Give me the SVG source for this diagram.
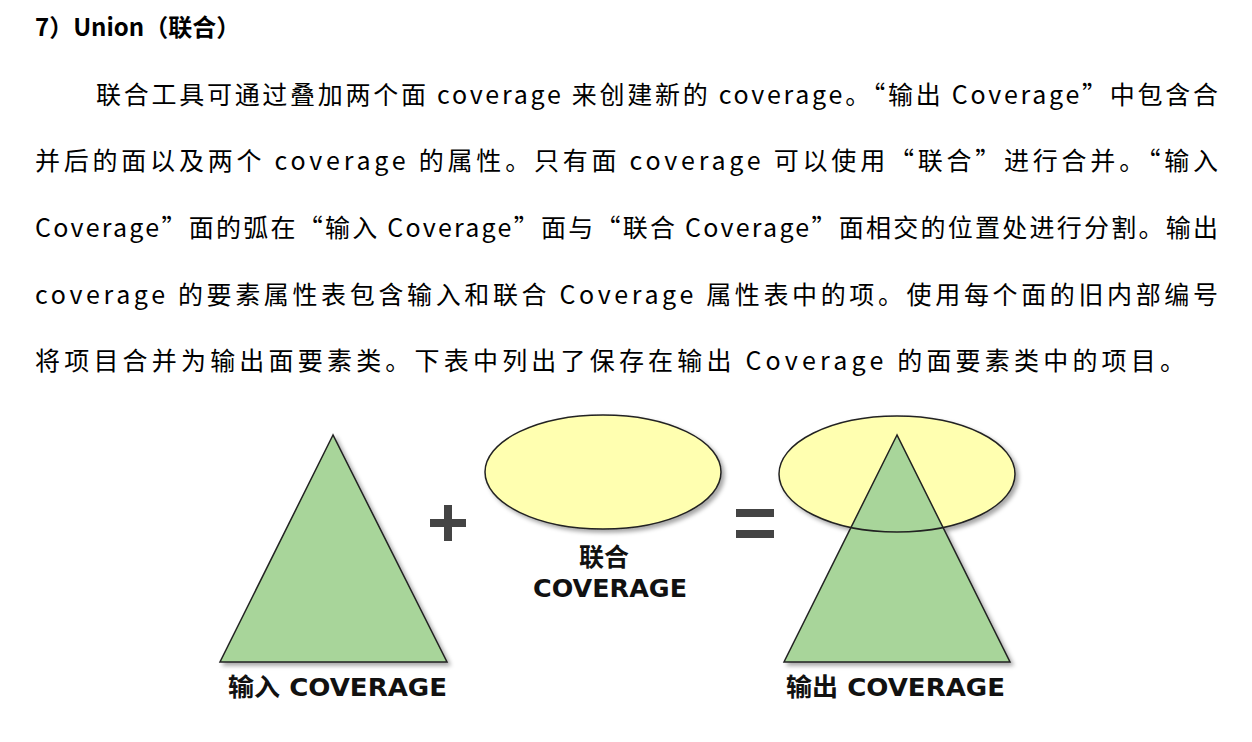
<svg xmlns="http://www.w3.org/2000/svg" width="1252" height="742" viewBox="0 0 1252 742">
<style>
.t{font-family:"Noto Sans CJK SC","Noto Sans",sans-serif;font-size:25px;fill:#000}
.h{font-family:"Noto Sans CJK SC","Noto Sans",sans-serif;font-size:24px;font-weight:bold;fill:#000}
.l{font-family:"DejaVu Sans","Noto Sans CJK SC",sans-serif;font-size:25px;font-weight:bold;fill:#111}
.tri{fill:#a8d59a;stroke:#222;stroke-width:1.5}
.ell{fill:#ffffb0;stroke:#222;stroke-width:1.5}
.op{fill:#444}
</style>
<defs><filter id="sh" x="-20%" y="-20%" width="150%" height="150%"><feDropShadow dx="3" dy="3" stdDeviation="2" flood-color="#000" flood-opacity="0.35"/></filter></defs>
<text class="h" x="35" y="36">7）Union（联合）</text>
<text class="t" x="96" y="104" textLength="1122" lengthAdjust="spacing">联合工具可通过叠加两个面 coverage 来创建新的 coverage。“输出 Coverage”中包含合</text>
<text class="t" x="35" y="170" textLength="1183" lengthAdjust="spacing">并后的面以及两个 coverage 的属性。只有面 coverage 可以使用“联合”进行合并。“输入</text>
<text class="t" x="35" y="237" textLength="1183" lengthAdjust="spacing">Coverage”面的弧在“输入 Coverage”面与“联合 Coverage”面相交的位置处进行分割。输出</text>
<text class="t" x="35" y="304" textLength="1183" lengthAdjust="spacing">coverage 的要素属性表包含输入和联合 Coverage 属性表中的项。使用每个面的旧内部编号</text>
<text class="t" x="35" y="370" textLength="1150" lengthAdjust="spacing">将项目合并为输出面要素类。下表中列出了保存在输出 Coverage 的面要素类中的项目。</text>
<g id="input" filter="url(#sh)"><polygon class="tri" points="333,435 220,662 447,662"/></g>
<g id="plus"><rect class="op" x="430" y="519" width="36" height="8"/><rect class="op" x="444" y="505" width="8" height="36"/></g>
<g id="union" filter="url(#sh)"><ellipse class="ell" cx="603" cy="472" rx="118" ry="57"/></g>
<g id="eq"><rect class="op" x="736" y="509" width="38" height="8"/><rect class="op" x="736" y="530" width="38" height="8"/></g>
<g id="output" filter="url(#sh)"><ellipse class="ell" cx="897" cy="474" rx="118" ry="58"/><polygon class="tri" points="897,435 784,662 1010,662"/></g>
<g id="outover"><clipPath id="c"><polygon points="897,435 784,662 1010,662"/></clipPath>
<ellipse cx="897" cy="474" rx="118" ry="58" fill="none" stroke="#222" stroke-width="1.5" clip-path="url(#c)"/></g>
<g id="labels">
<text class="l" x="228" y="696" textLength="219" lengthAdjust="spacingAndGlyphs">输入 COVERAGE</text>
<text class="l" x="604" y="566" text-anchor="middle">联合</text>
<text class="l" x="533" y="597" textLength="154" lengthAdjust="spacingAndGlyphs">COVERAGE</text>
<text class="l" x="786" y="696" textLength="219" lengthAdjust="spacingAndGlyphs">输出 COVERAGE</text>
</g>
</svg>
